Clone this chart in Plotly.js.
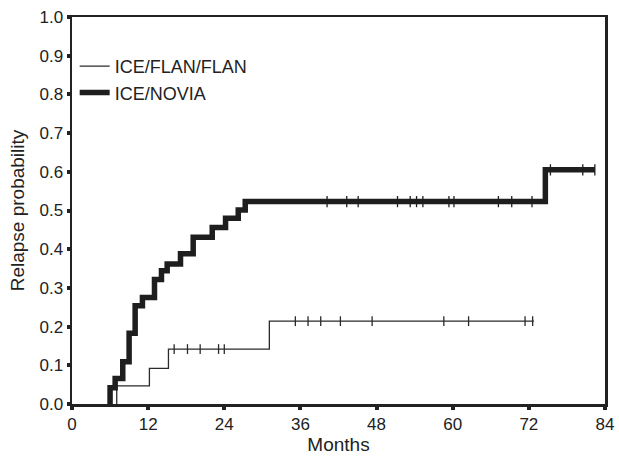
<!DOCTYPE html>
<html>
<head>
<meta charset="utf-8">
<script src="https://cdn.plot.ly/plotly-3.0.1.min.js"></script>
<style>html,body{margin:0;padding:0;background:#fff;}#chart{width:619px;height:457px;}</style>
</head>
<body>
<div id="chart"></div>
<script>
// ICE/NOVIA (thick)
const noviaTimes = [6.0, 6.8, 8.0, 9.0, 9.95, 11.1, 13.0, 14.1, 15.0, 17.1, 19.1, 22.1, 24.2, 26.2, 27.3, 74.6];
const noviaProb  = [0.042, 0.066, 0.109, 0.183, 0.254, 0.275, 0.322, 0.344, 0.362, 0.388, 0.431, 0.456, 0.480, 0.501, 0.523, 0.605];
const noviaEnd = 82.4;
const noviaCensor = [40.2, 43.3, 45.1, 51.3, 53.3, 54.3, 55.3, 59.4, 60.2, 67.2, 69.3, 72.5, 75.4, 80.5, 82.4];

// ICE/FLAN/FLAN (thin)
const flanTimes = [7.05, 12.2, 15.2, 31.1];
const flanProb  = [0.047, 0.092, 0.142, 0.214];
const flanEnd = 72.8;
const flanCensor = [16.1, 18.2, 20.2, 23.1, 24.0, 35.2, 37.2, 39.2, 42.3, 47.3, 58.6, 62.5, 71.4, 72.6];

const xTicks = [0, 12, 24, 36, 48, 60, 72, 84];
const yTicks = [0, 0.1, 0.2, 0.3, 0.4, 0.5, 0.6, 0.7, 0.8, 0.9, 1.0];

function stepXY(times, probs, end) {
  const x = [times[0]], y = [0];
  for (let i = 0; i < times.length; i++) { x.push(times[i]); y.push(probs[i]); }
  x.push(end); y.push(probs[probs.length - 1]);
  return {x, y};
}
function valueAt(times, probs, t) {
  let v = 0;
  for (let i = 0; i < times.length; i++) if (times[i] <= t) v = probs[i];
  return v;
}

const flanStep = stepXY(flanTimes, flanProb, flanEnd);
const noviaStep = stepXY(noviaTimes, noviaProb, noviaEnd);

const traces = [
  {x: flanStep.x, y: flanStep.y, mode: 'lines', line: {shape: 'hv', color: '#2a2a2a', width: 1.3},
   name: 'ICE/FLAN/FLAN', cliponaxis: false},
  {x: noviaStep.x, y: noviaStep.y, mode: 'lines', line: {shape: 'hv', color: '#1e1e1e', width: 5.5},
   name: 'ICE/NOVIA', cliponaxis: false},
  {x: flanCensor, y: flanCensor.map(t => valueAt(flanTimes, flanProb, t)), mode: 'markers',
   marker: {symbol: 'line-ns', size: 7, line: {width: 1.3, color: '#2a2a2a'}}, showlegend: false, hoverinfo: 'skip'},
  {x: noviaCensor, y: noviaCensor.map(t => valueAt(noviaTimes, noviaProb, t)), mode: 'markers',
   marker: {symbol: 'line-ns', size: 8, line: {width: 1.3, color: '#1e1e1e'}}, showlegend: false, hoverinfo: 'skip'}
];

const layout = {
  width: 619, height: 457,
  margin: {l: 72, r: 14, t: 17, b: 53},
  paper_bgcolor: '#fff', plot_bgcolor: '#fff',
  font: {family: 'Liberation Sans, Arial, sans-serif', color: '#222', size: 17},
  showlegend: true,
  legend: {x: 0.005, y: 0.92, xanchor: 'left', yanchor: 'top', bgcolor: 'rgba(0,0,0,0)',
           font: {size: 18, color: '#222'}, itemwidth: 30, tracegroupgap: 0},
  xaxis: {range: [0, 84], tickvals: xTicks, ticktext: xTicks.map(String), ticks: 'outside',
          ticklen: 3, tickwidth: 4, tickcolor: '#222', showline: true, linecolor: '#222', linewidth: 2.5,
          mirror: true, showgrid: false, zeroline: false, tickfont: {size: 17},
          title: {text: 'Months', font: {size: 19, color: '#222'}, standoff: 3}},
  yaxis: {range: [0, 1], tickvals: yTicks, tickformat: '.1f', ticks: 'outside',
          ticklen: 3, tickwidth: 4, tickcolor: '#222', showline: true, linecolor: '#222', linewidth: 2.5,
          mirror: true, showgrid: false, zeroline: false, tickfont: {size: 17},
          title: {text: 'Relapse probability', font: {size: 19, color: '#222'}, standoff: 10}}
};

Plotly.newPlot('chart', traces, layout, {displayModeBar: false, staticPlot: true});
</script>
</body>
</html>
